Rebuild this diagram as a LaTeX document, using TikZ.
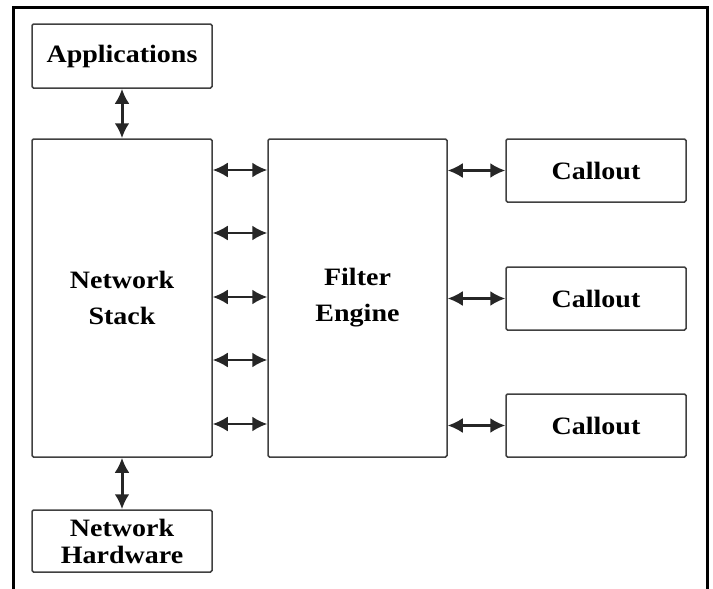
\documentclass[tikz,border=0pt]{standalone}
\usepackage{fontspec}
\setmainfont[FakeStretch=1.12]{Liberation Serif}
\usetikzlibrary{arrows.meta}

\begin{document}
\begin{tikzpicture}[x=1pt, y=1pt,
		box/.style={draw=black!75, line width=1.5pt, rounded corners=1.5pt, fill=white, inner sep=0pt, align=center, font=\bfseries\fontsize{25}{36}\selectfont},
		link/.style={{Latex[length=15pt,width=15pt]}-{Latex[length=15pt,width=15pt]}, line width=2.2pt, black!85}]
		\useasboundingbox (0, 0) rectangle (713, -589);
		
		% frame, open at the bottom
		\draw[line width=3pt] (13, -589) -- (13, -7) -- (707, -7) -- (707, -589);
		
		\node[box, minimum width=180pt, minimum height=64pt] (apps) at (122, -56) {Applications};
		\node[box, minimum width=180pt, minimum height=318pt] (stack) at (122, -298) {Network\\Stack};
		\node[box, minimum width=180pt, minimum height=62pt, font=\bfseries\fontsize{25}{27}\selectfont] (hw) at (122, -541) {Network\\Hardware};
		\node[box, minimum width=179pt, minimum height=318pt] (engine) at (357.5, -298) {Filter\\Engine};
		
		\node[box, minimum width=180pt, minimum height=63pt] (callA) at (596, -170.5) {Callout};
		\node[box, minimum width=180pt, minimum height=63pt] (callB) at (596, -298.5) {Callout};
		\node[box, minimum width=180pt, minimum height=63pt] (callC) at (596, -425.5) {Callout};
		
		% up and down the stack
		\draw[link, line width=3pt] (apps.south) -- (stack.north);
		\draw[link, line width=3pt] (stack.south) -- (hw.north);
		
		% stack <-> filter engine
		\foreach \y in {170, 233, 297, 360, 424}
			\draw[link] (stack.east |- 0, -\y) -- (engine.west |- 0, -\y);
		
		% filter engine <-> callouts
		\foreach \c in {callA, callB, callC}
			\draw[link] (\c.west -| engine.east) -- (\c.west);
	\end{tikzpicture}
\end{document}
